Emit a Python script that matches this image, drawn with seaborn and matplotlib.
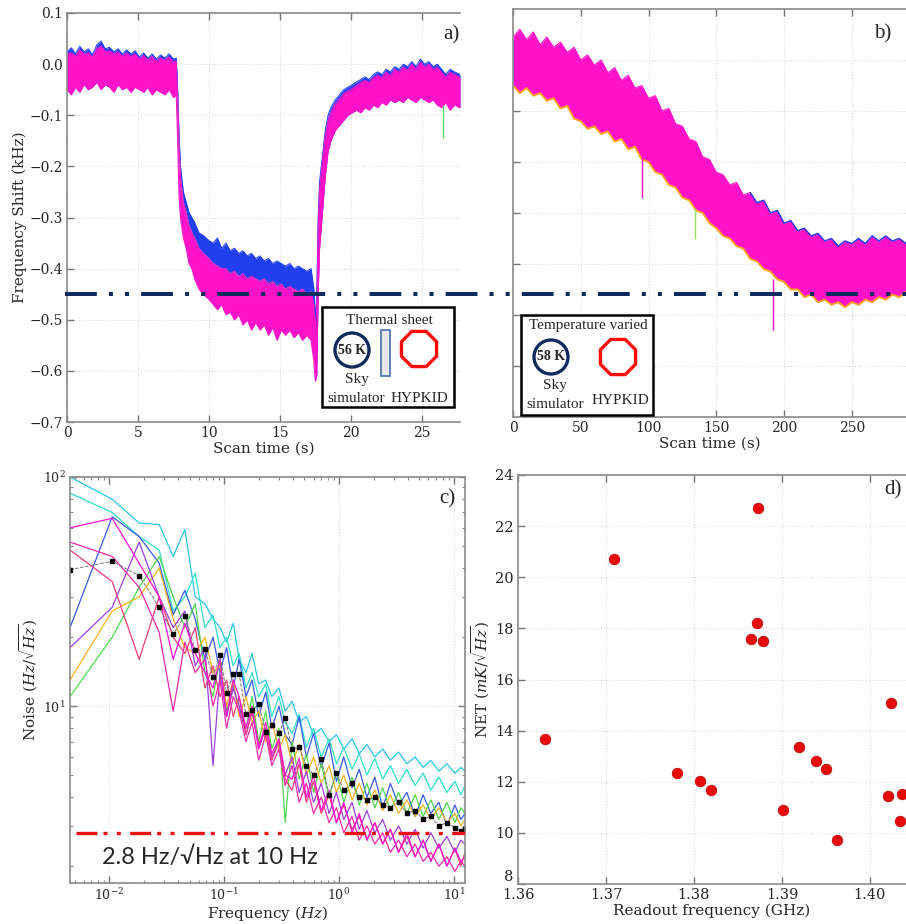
import pandas as pd
import matplotlib
matplotlib.use("Agg")
import matplotlib.pyplot as plt
import matplotlib.transforms as mtransforms
from matplotlib.patches import Rectangle, Circle, RegularPolygon
from matplotlib.lines import Line2D
import seaborn as sns

# ---------- panel a: frequency shift, sky simulator behind thermal sheet ----------
a_time = [0.0, 0.3, 0.6, 0.9, 1.2, 1.5, 1.8, 2.1, 2.4, 2.7, 3.0, 3.3, 3.6, 3.9, 4.2, 4.5, 4.8, 5.1,
          5.4, 5.7, 6.0, 6.3, 6.6, 6.9, 7.2, 7.5, 7.7,
          7.8, 7.9, 8.0, 8.2, 8.4, 8.6, 8.8, 9.0, 9.3, 9.6, 10.0,
          10.3, 10.6, 10.9, 11.2, 11.5, 11.8, 12.1, 12.4, 12.7, 13.0, 13.3, 13.6, 13.9, 14.2, 14.5,
          14.8, 15.1, 15.4, 15.7, 16.0, 16.3, 16.6, 16.9, 17.2,
          17.4, 17.5, 17.6, 17.7, 17.8,
          18.0, 18.2, 18.4, 18.6, 18.9, 19.2, 19.5, 19.8,
          20.1, 20.4, 20.7, 21.0, 21.3, 21.6, 21.9, 22.2, 22.5, 22.8, 23.1, 23.4, 23.7, 24.0, 24.3,
          24.6, 24.9, 25.2, 25.5, 25.8, 26.1, 26.4, 26.7, 27.0, 27.3, 27.7]
a_top = [0.025, 0.032, 0.02, 0.035, 0.024, 0.03, 0.018, 0.038, 0.045, 0.03, 0.033, 0.024, 0.03, 0.02,
         0.028, 0.02, 0.026, 0.014, 0.022, 0.012, 0.02, 0.01, 0.018, 0.012, 0.02, 0.01, 0.012,
         -0.05, -0.14, -0.2, -0.25, -0.27, -0.29, -0.3, -0.31, -0.33, -0.335, -0.345,
         -0.35, -0.34, -0.36, -0.35, -0.365, -0.36, -0.37, -0.365, -0.375, -0.37, -0.38, -0.375, -0.385,
         -0.38, -0.39, -0.385, -0.39, -0.395, -0.39, -0.4, -0.395, -0.4, -0.405, -0.4,
         -0.44, -0.5, -0.45, -0.3, -0.23,
         -0.18, -0.13, -0.1, -0.085, -0.07, -0.06, -0.05, -0.045,
         -0.04, -0.035, -0.03, -0.025, -0.03, -0.02, -0.015, -0.02, -0.01, -0.015, -0.005, -0.01, 0.0,
         -0.005, 0.005, -0.005, 0.01, 0.0, 0.005, -0.005, 0.0, -0.01, -0.02, -0.01, -0.015, -0.02]
a_mid = [0.02, 0.022, 0.016, 0.028, 0.02, 0.022, 0.014, 0.03, 0.035, 0.025, 0.026, 0.02, 0.024, 0.016,
         0.022, 0.015, 0.02, 0.01, 0.017, 0.008, 0.015, 0.006, 0.012, 0.008, 0.014, 0.005, 0.006,
         -0.06, -0.16, -0.22, -0.27, -0.29, -0.315, -0.33, -0.34, -0.36, -0.37, -0.38,
         -0.39, -0.395, -0.4, -0.4, -0.41, -0.405, -0.415, -0.41, -0.42, -0.415, -0.42, -0.425, -0.42,
         -0.43, -0.425, -0.435, -0.43, -0.44, -0.435, -0.44, -0.445, -0.44, -0.45, -0.445,
         -0.47, -0.52, -0.48, -0.32, -0.245,
         -0.19, -0.14, -0.11, -0.095, -0.078, -0.068, -0.058, -0.052,
         -0.048, -0.042, -0.036, -0.032, -0.036, -0.026, -0.022, -0.026, -0.016, -0.022, -0.01, -0.016,
         -0.006, -0.012, 0.0, -0.01, 0.004, -0.006, 0.0, -0.01, -0.006, -0.016, -0.025, -0.016, -0.02,
         -0.026]
a_low = [-0.05, -0.06, -0.045, -0.055, -0.04, -0.05, -0.045, -0.035, -0.05, -0.04, -0.045, -0.055, -0.04,
         -0.05, -0.045, -0.055, -0.045, -0.05, -0.055, -0.045, -0.06, -0.05, -0.055, -0.06, -0.05, -0.065,
         -0.06,
         -0.15, -0.26, -0.3, -0.34, -0.36, -0.39, -0.4, -0.42, -0.44, -0.45, -0.46,
         -0.47, -0.48, -0.47, -0.49, -0.485, -0.5, -0.49, -0.51, -0.5, -0.52, -0.505, -0.52, -0.51,
         -0.53, -0.515, -0.54, -0.52, -0.53, -0.52, -0.535, -0.525, -0.54, -0.53, -0.54,
         -0.58, -0.62, -0.61, -0.45, -0.36,
         -0.29, -0.22, -0.17, -0.15, -0.13, -0.12, -0.11, -0.1,
         -0.095, -0.09, -0.095, -0.085, -0.09, -0.08, -0.085, -0.075, -0.08, -0.07, -0.075, -0.07, -0.075,
         -0.065, -0.07, -0.075, -0.065, -0.07, -0.075, -0.07, -0.08, -0.085, -0.075, -0.09, -0.08, -0.085]
a_spike_time = [26.5]
a_spike_from = [-0.08]
a_spike_to = [-0.145]

# ---------- panel b: frequency shift while sky temperature is varied ----------
b_time = [0, 5, 10, 15, 20, 25, 30, 35, 40, 45, 50, 55, 60, 65, 70, 75, 80, 85, 90, 95,
          100, 105, 110, 115, 120, 125, 130, 135, 140, 145, 150, 155, 160, 165, 170, 175, 180,
          185, 190, 195, 200, 205, 210, 215, 220, 225, 230, 235, 240, 245, 250, 255, 260, 265,
          270, 275, 280, 285, 290]
b_top = [0.045, 0.06, 0.04, 0.055, 0.03, 0.045, 0.025, 0.035, 0.015, 0.025, 0.0, 0.01, -0.01, 0.0,
         -0.025, -0.015, -0.04, -0.03, -0.055, -0.05, -0.075, -0.07, -0.1, -0.095, -0.125, -0.13,
         -0.155, -0.16, -0.19, -0.195, -0.22, -0.225, -0.245, -0.24, -0.265, -0.26, -0.28, -0.275,
         -0.3, -0.295, -0.32, -0.315, -0.335, -0.33, -0.345, -0.34, -0.355, -0.35, -0.365, -0.355,
         -0.36, -0.35, -0.36, -0.345, -0.355, -0.345, -0.355, -0.35, -0.36]
b_low = [-0.05, -0.065, -0.055, -0.07, -0.065, -0.08, -0.075, -0.095, -0.09, -0.115, -0.12, -0.135,
         -0.13, -0.145, -0.14, -0.16, -0.155, -0.175, -0.17, -0.195, -0.2, -0.22, -0.225, -0.245,
         -0.25, -0.27, -0.275, -0.295, -0.3, -0.32, -0.33, -0.345, -0.35, -0.365, -0.37, -0.39,
         -0.395, -0.41, -0.415, -0.43, -0.435, -0.45, -0.45, -0.465, -0.46, -0.475, -0.47, -0.48,
         -0.475, -0.485, -0.475, -0.48, -0.47, -0.475, -0.465, -0.47, -0.46, -0.465, -0.455]
b_spike_time = [95, 134, 192]
b_spike_from = [-0.18, -0.29, -0.43]
b_spike_to = [-0.27, -0.35, -0.53]

# ---------- panel c: noise spectra ----------
c_freq = [0.00455, 0.0106, 0.0182, 0.0272, 0.036, 0.0455, 0.056, 0.068, 0.080, 0.092, 0.105, 0.12,
          0.135, 0.155, 0.175, 0.20, 0.23, 0.26, 0.30, 0.34, 0.39, 0.45, 0.52, 0.60, 0.70, 0.82,
          0.95, 1.1, 1.3, 1.5, 1.75, 2.05, 2.4, 2.8, 3.3, 3.9, 4.6, 5.4, 6.3, 7.4, 8.7, 10.2,
          11.5, 12.5]
c_cyan = [100, 80, 63, 62, 45, 59, 30, 28, 24, 22, 19, 23, 16, 14, 17, 12.5, 13, 11, 12, 9.5, 10.5,
          8.5, 9, 7.5, 8, 7, 7.5, 6.5, 7.2, 6.2, 6.8, 6.0, 6.5, 5.8, 6.3, 5.6, 6.0, 5.4, 5.8, 5.2,
          5.6, 5.1, 5.4, 5.2]
c_teal = [85, 70, 55, 48, 26, 30, 38, 22, 25, 18, 20, 15, 17, 12, 14, 11, 12.5, 9, 11, 8.5,
          7.6, 9.2, 6.6, 8.0, 6.0, 7.2, 5.6, 6.6, 5.3, 6.2, 5.0, 5.9, 4.8, 5.5, 4.6, 5.3, 4.5, 5.1,
          4.3, 4.9, 4.2, 4.7, 4.1, 4.5]
c_blue = [22, 67, 55, 42, 25, 32, 24, 16, 20, 14, 18, 12, 16, 11, 13, 9, 11.5, 8, 10, 7.5,
          6.8, 9.0, 6.0, 7.6, 5.4, 6.9, 4.7, 6.0, 4.4, 5.3, 4.0, 4.9, 3.6, 4.6, 3.7, 4.2, 3.3, 4.1,
          3.4, 3.8, 3.0, 3.7, 3.2, 3.4]
c_green = [11, 20, 33, 45, 30, 22, 28, 14, 11, 16, 9.5, 12, 10, 8, 11, 7, 9.5, 6.5, 8, 3.1, 7,
           4.8, 6.2, 4.2, 5.6, 4.0, 5.2, 3.8, 4.9, 3.7, 4.6, 3.6, 4.4, 3.5, 4.2, 3.4, 4.1, 3.3, 3.9,
           3.2, 3.8, 3.1, 3.6, 3.4]
c_orange = [13, 26, 30, 40, 24, 18, 17, 20, 14, 15, 10, 13, 9, 11, 8.5, 9.5, 7, 8.5, 6.5, 7.5, 5.6,
            6.8, 5.0, 6.0, 4.6, 5.5, 4.2, 5.0, 3.9, 4.6, 3.7, 4.3, 3.5, 4.1, 3.4, 3.9, 3.3, 3.7,
            3.2, 3.6, 3.1, 3.4, 3.0, 3.2]
c_purple = [18, 27, 52, 30, 22, 26, 15, 18, 5.5, 14, 9, 12, 10, 7.5, 9.5, 6.5, 8, 6, 7, 5, 6, 4.2,
            5.2, 3.8, 4.6, 3.4, 4.2, 3.2, 3.8, 2.9, 3.5, 2.8, 3.2, 2.6, 3.0, 2.5, 2.9, 2.4, 2.8,
            2.4, 2.7, 2.3, 2.6, 2.5]
c_rose = [48, 35, 16, 30, 20, 17, 22, 12, 15, 11, 13, 9, 11, 7.5, 9.5, 6.8, 8, 5.8, 7, 4.8,
          4.3, 5.6, 3.8, 4.7, 3.4, 4.1, 3.1, 3.7, 2.9, 3.3, 2.6, 3.1, 2.5, 2.9, 2.3, 2.7, 2.2, 2.6,
          2.1, 2.5, 2.0, 2.4, 2.0, 2.3]
c_pink = [52, 45, 33, 21, 9.5, 19, 14, 16, 10, 13, 8, 11, 9.5, 7, 8.5, 5.8, 7.5, 5.5, 6.5, 4.5,
          5.5, 3.8, 4.6, 3.4, 4.0, 3.1, 3.6, 2.8, 3.3, 2.6, 3.0, 2.5, 2.8, 2.3, 2.6, 2.2, 2.5, 2.1,
          2.3, 2.0, 2.2, 1.9, 2.1, 2.0]
c_magenta = [60, 66, 42, 30, 16, 23, 17, 14, 12, 16, 9, 13, 11, 8, 10, 6.5, 8.5, 6.2, 7.2, 5.0,
             4.8, 5.9, 4.0, 5.0, 3.5, 4.3, 3.1, 3.8, 2.8, 3.4, 2.6, 3.1, 2.5, 2.9, 2.3, 2.8, 2.2,
             2.6, 2.1, 2.5, 2.0, 2.4, 2.1, 2.2]
c_median = [39.4, 42.9, 37.1, 27.0, 20.6, 24.8, 17.5, 17.7, 13.4, 16.7, 11.4, 13.8, 13.8, 9.2, 9.6,
            10.2, 7.7, 8.3, 7.6, 8.9, 6.5, 6.6, 5.5, 5.0, 5.9, 4.1, 5.1, 4.3, 4.6, 4.0, 3.9, 4.0,
            3.7, 3.6, 3.8, 3.4, 3.5, 3.2, 3.3, 3.0, 3.1, 2.95, 2.85, 2.9]
noise_level = 2.8

# ---------- panel d: NET per resonator ----------
d_freq = [1.36303, 1.37092, 1.38726, 1.38711, 1.38646, 1.38787, 1.37805, 1.38063, 1.38195,
          1.39010, 1.39192, 1.39390, 1.39496, 1.39621, 1.40235, 1.40209, 1.40360, 1.40337]
d_net = [13.66, 20.71, 22.72, 18.20, 17.58, 17.51, 12.36, 12.03, 11.66,
         10.88, 13.35, 12.82, 12.51, 9.71, 15.09, 11.44, 11.51, 10.46]

MAGENTA = '#ff12c8'
BLUE = '#2040f0'
NAVY = '#0f2a5e'
W, H = 906, 924

sns.set_style("ticks")
plt.rcParams['font.family'] = ['DejaVu Serif']
plt.rcParams['mathtext.fontset'] = 'dejavuserif'
plt.rcParams['axes.edgecolor'] = '#8a8a8a'


def px_axes(fig, left, top, right, bottom):
    return fig.add_axes([left / W, 1 - bottom / H, (right - left) / W, (bottom - top) / H])


def style(ax, right=False):
    ax.tick_params(which='major', direction='in', length=5, width=1, color='#777777',
                   labelsize=10, top=True, right=right, pad=3)
    ax.tick_params(which='minor', direction='in', length=2.5, width=0.8, color='#888888',
                   top=True, right=right)
    ax.grid(True, which='major', color='#d8d8d8', linestyle=':', linewidth=0.8)
    ax.set_axisbelow(True)
    for s in ax.spines.values():
        s.set_linewidth(1.2)
    if not right:
        ax.spines['right'].set_visible(False)


fig = plt.figure(figsize=(W / 100, H / 100), dpi=100)

# panel a
ax_a = px_axes(fig, 67, 13, 460, 422)
ax_a.fill_between(a_time, a_low, a_top, color=BLUE, lw=0)
ax_a.fill_between(a_time, a_low, a_mid, color=MAGENTA, lw=0)
sns.lineplot(x=a_time, y=a_top, ax=ax_a, color=BLUE, lw=0.7, sort=False)
sns.lineplot(x=a_time[27:62], y=a_mid[27:62], ax=ax_a, color='#38d8b0', lw=0.6, sort=False)
sns.lineplot(x=a_time, y=a_mid, ax=ax_a, color=MAGENTA, lw=0.7, sort=False)
sns.lineplot(x=a_time, y=a_low, ax=ax_a, color=MAGENTA, lw=0.8, sort=False)
ax_a.vlines(a_spike_time, a_spike_from, a_spike_to, colors='#60d870', lw=1.0)
ax_a.set_xlim(0, 27.7)
ax_a.set_ylim(-0.7, 0.1)
ax_a.set_xticks([0, 5, 10, 15, 20, 25])
ax_a.set_yticks([0.1, 0.0, -0.1, -0.2, -0.3, -0.4, -0.5, -0.6, -0.7])
ax_a.set_xlabel('Scan time (s)', fontsize=11, labelpad=1)
ax_a.set_ylabel('Frequency Shift (kHz)', fontsize=11, labelpad=2)
style(ax_a)

# panel b
ax_b = px_axes(fig, 513, 9, 906, 417)
ax_b.fill_between(b_time, b_low, b_top, color=MAGENTA, lw=0)
sns.lineplot(x=b_time, y=b_low, ax=ax_b, color='#f5a623', lw=1.4, sort=False)
sns.lineplot(x=b_time, y=b_top, ax=ax_b, color=MAGENTA, lw=0.8, sort=False)
sns.lineplot(x=b_time[35:], y=b_top[35:], ax=ax_b, color=BLUE, lw=1.0, sort=False)
ax_b.vlines(b_spike_time, b_spike_from, b_spike_to, colors=[MAGENTA, '#9be060', MAGENTA], lw=1.0)
ax_b.set_xlim(0, 290)
ax_b.set_ylim(-0.7, 0.1)
ax_b.set_xticks([0, 50, 100, 150, 200, 250])
ax_b.set_yticks([0.0, -0.1, -0.2, -0.3, -0.4, -0.5, -0.6])
ax_b.set_yticklabels([])
ax_b.set_xlabel('Scan time (s)', fontsize=11, labelpad=1)
style(ax_b)

# dash-dot reference across a and b
trans = mtransforms.blended_transform_factory(fig.transFigure, ax_a.transData)
fig.add_artist(Line2D([65 / W, 1.0], [-0.45, -0.45], transform=trans, color=NAVY, lw=2.9,
                      linestyle=(0, (7.9, 3.0, 1.0, 3.0, 1.0, 3.0)), zorder=5))

# panel c
ax_c = px_axes(fig, 70, 477, 465, 883)
names = ['cyan', 'teal', 'blue', 'green', 'orange', 'purple', 'rose', 'pink', 'magenta']
series = [c_cyan, c_teal, c_blue, c_green, c_orange, c_purple, c_rose, c_pink, c_magenta]
colors = ['#2ec4e6', '#30e0c8', '#3a5ae8', '#50d850', '#f2b21e', '#9a40e0', '#f03c78', '#f028a8',
          '#ff10d0']
df_c = pd.concat([pd.DataFrame({'freq': c_freq, 'noise': v, 'kid': n}) for n, v in zip(names, series)])
sns.lineplot(data=df_c, x='freq', y='noise', hue='kid', hue_order=names,
             palette=dict(zip(names, colors)), estimator=None, sort=False, lw=0.9,
             legend=False, ax=ax_c)
ax_c.plot(c_freq, c_median, color='#777777', lw=0.7, ls='--', marker='s', ms=3.2,
          mfc='black', mec='black')
ax_c.set_xscale('log')
ax_c.set_yscale('log')
ax_c.set_xlim(0.00455, 12.5)
ax_c.set_ylim(1.69, 100)
ax_c.axhline(noise_level, xmin=0.015, xmax=1.0, color='#ee1111', lw=2.4,
             linestyle=(0, (6.3, 1.8, 1.2, 2.8, 1.2, 2.8)), zorder=6)
ax_c.text(0.0086, 2.2, '2.8 Hz/\u221aHz at 10 Hz', family=['Lato', 'DejaVu Sans'], fontsize=17,
          va='center', ha='left')
ax_c.set_xlabel('Frequency ($Hz$)', fontsize=11, labelpad=1)
ax_c.set_ylabel('Noise ($Hz/\\sqrt{Hz}$)', fontsize=11, labelpad=2)
style(ax_c, right=True)
ax_c.tick_params(axis='both', labelsize=9)
ax_c.grid(False, which='minor')

# panel d
ax_d = px_axes(fig, 518, 475, 906, 884)
sns.scatterplot(x=d_freq, y=d_net, ax=ax_d, color='#e80808', s=60, edgecolor='#b00000',
                linewidth=0.4, zorder=4, clip_on=False)
ax_d.set_xlim(1.36, 1.4041)
ax_d.set_ylim(8, 24)
ax_d.set_xticks([1.36, 1.37, 1.38, 1.39, 1.40])
ax_d.set_xticklabels(['1.36', '1.37', '1.38', '1.39', '1.40'])
ax_d.set_yticks([8, 10, 12, 14, 16, 18, 20, 22, 24])
ax_d.set_xlabel('Readout frequency (GHz)', fontsize=11, labelpad=1)
ax_d.set_ylabel('NET ($mK/\\sqrt{Hz}$)', fontsize=11, labelpad=2)
style(ax_d)
ax_d.tick_params(labelsize=10.5)
# lowest y label sits just above the corner, as in the original
ax_d.get_yticklabels()[0].set_va('bottom')

# schematic boxes and panel tags drawn in pixel coordinates
ov = fig.add_axes([0, 0, 1, 1], zorder=10)
ov.set_xlim(0, W)
ov.set_ylim(H, 0)
ov.axis('off')
ov.patch.set_alpha(0)
serif = ['Liberation Serif', 'DejaVu Serif']

ov.add_patch(Rectangle((322, 307), 132, 100, facecolor='white', edgecolor='black', lw=1.8))
ov.add_patch(Circle((352, 350), 17, facecolor='none', edgecolor=NAVY, lw=2.4))
ov.add_patch(Rectangle((381, 330), 9, 46, facecolor='#e8e8ea', edgecolor='#4a6fa5', lw=1.2))
ov.add_patch(RegularPolygon((419, 349), 8, radius=19, orientation=0.3927, facecolor='none',
                            edgecolor='#ff0a0a', lw=2.4))
ov.text(389, 321, 'Thermal sheet', family=serif, fontsize=11, ha='center', va='center')
ov.text(352, 350, '56 K', family=serif, fontsize=10, fontweight='bold', ha='center', va='center')
ov.text(357, 380, 'Sky', family=serif, fontsize=11, ha='center', va='center')
ov.text(356, 398, 'simulator', family=serif, fontsize=11, ha='center', va='center')
ov.text(419, 398, 'HYPKID', family=serif, fontsize=11, ha='center', va='center')

ov.add_patch(Rectangle((521, 315), 132, 100, facecolor='white', edgecolor='black', lw=1.8))
ov.add_patch(Circle((551, 357), 17, facecolor='none', edgecolor=NAVY, lw=2.4))
ov.add_patch(RegularPolygon((618, 357), 8, radius=19, orientation=0.3927, facecolor='none',
                            edgecolor='#ff0a0a', lw=2.4))
ov.text(588, 326, 'Temperature varied', family=serif, fontsize=11, ha='center', va='center')
ov.text(551, 357, '58 K', family=serif, fontsize=10, fontweight='bold', ha='center', va='center')
ov.text(555, 386, 'Sky', family=serif, fontsize=11, ha='center', va='center')
ov.text(555, 405, 'simulator', family=serif, fontsize=11, ha='center', va='center')
ov.text(620, 400, 'HYPKID', family=serif, fontsize=11, ha='center', va='center')

for tag, x, y in [('a)', 451, 35), ('b)', 883, 34), ('c)', 447, 499), ('d)', 893, 490)]:
    ov.text(x, y, tag, family=serif, fontsize=15, ha='center', va='center')

fig.savefig('out.png', dpi=100)
